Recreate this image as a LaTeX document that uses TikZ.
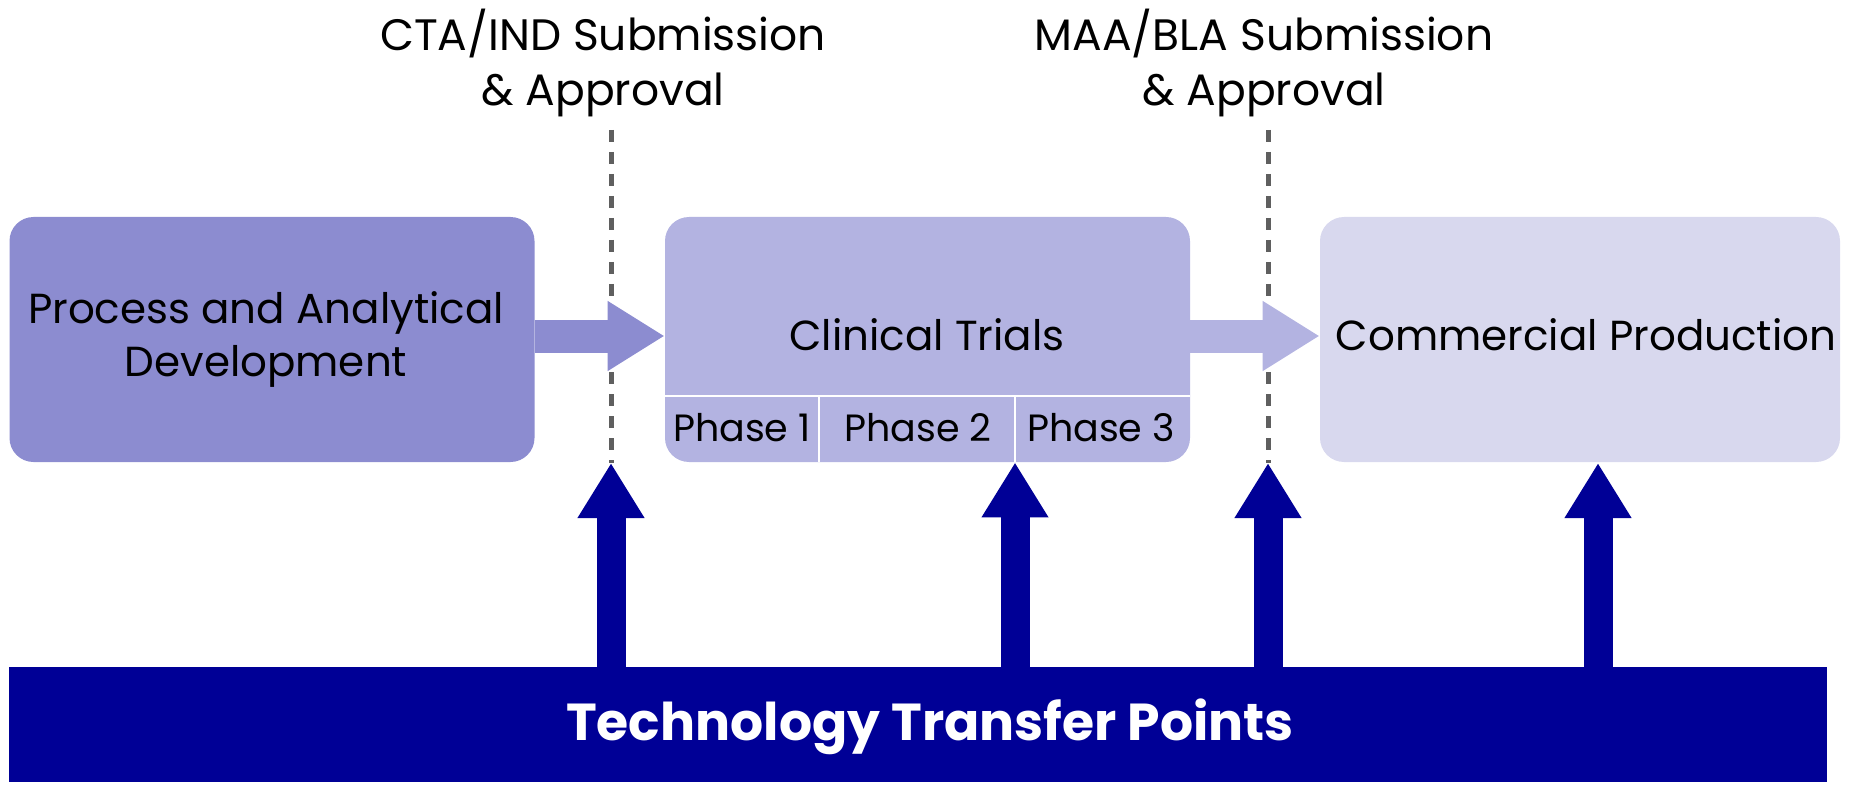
\documentclass[tikz,border=0pt]{standalone}
\usepackage{fontspec}
\setmainfont{Poppins}
\usetikzlibrary{arrows.meta}
\definecolor{pdevc}{RGB}{140,140,208}
\definecolor{clinc}{RGB}{179,179,225}
\definecolor{commc}{RGB}{216,216,238}
\definecolor{navyc}{RGB}{0,0,150}
\definecolor{dashc}{RGB}{95,95,95}
\tikzset{
  stagebox/.style={rectangle, rounded corners=12pt, inner sep=0pt, minimum height=122.5pt},
  lbl/.style={inner sep=0pt, align=center, font=\fontsize{21pt}{26.5pt}\selectfont, text=black},
  toplbl/.style={inner sep=0pt, align=center, font=\fontsize{22pt}{27.5pt}\selectfont, text=black},
  phlbl/.style={inner sep=0pt, align=center, font=\fontsize{19pt}{24pt}\selectfont, text=black},
  fatarrow/.style={line width=16.5pt, -{Triangle[width=33pt,length=28.5pt]}},
  ttarrow/.style={navyc, line width=14.5pt, -{Triangle[width=31.5pt,length=27.5pt]}},
  regline/.style={dashc, line width=2.5pt, dash pattern=on 6pt off 5pt},
  divline/.style={white, line width=1pt}
}
\begin{document}
\begin{tikzpicture}[x=0.5pt,y=-0.5pt]
\useasboundingbox (0,0) rectangle (1857,791);
% regulatory lines
\coordinate (d1top) at (611,130);
\coordinate (d1bot) at (611,463);
\coordinate (d2top) at (1268,130);
\coordinate (d2bot) at (1268,463);
\draw[regline] (d1top) -- (d1bot);
\draw[regline] (d2top) -- (d2bot);
\node[toplbl] (cta) at (603,63) {CTA/IND Submission\\\& Approval};
\node[toplbl] (maa) at (1264,63) {MAA/BLA Submission\\\& Approval};
% stages
\node[stagebox, fill=pdevc, minimum width=262.5pt] (pdev) at (272,339.5) {};
\node[stagebox, fill=clinc, minimum width=262.5pt] (clin) at (927.5,339.5) {};
\node[stagebox, fill=commc, minimum width=260pt] (comm) at (1580,339.5) {};
\node[lbl] (pdevt) at (266,339) {Process and Analytical\\Development};
\node[lbl] (clint) at (927,335) {Clinical Trials};
\node[lbl] (commt) at (1586,335) {Commercial Production};
\coordinate (sepL) at (665,396);
\coordinate (sepR) at (1190,396);
\coordinate (div1) at (819,396);
\coordinate (div2) at (1015,396);
\draw[divline] (sepL) -- (sepR);
\draw[divline] (div1) -- (div1 |- clin.south);
\draw[divline] (div2) -- (div2 |- clin.south);
\node[phlbl] (ph1) at (742,428) {Phase 1};
\node[phlbl] (ph2) at (918,428) {Phase 2};
\node[phlbl] (ph3) at (1101,428) {Phase 3};
% flow arrows
\draw[fatarrow, pdevc] ([yshift=1.75pt]pdev.east) -- ([yshift=1.75pt]clin.west);
\draw[fatarrow, clinc] ([yshift=1.75pt]clin.east) -- ([yshift=1.75pt]comm.west);
% technology transfer bar
\node[rectangle, fill=navyc, inner sep=0pt, minimum width=909pt, minimum height=57.5pt] (bar) at (918,724.5) {};
\node[inner sep=0pt, text=white, font=\fontsize{26pt}{30pt}\selectfont\bfseries] (bart) at (930,727) {Technology Transfer Points};
\coordinate (t4) at (1598,463);
\draw[ttarrow] (bar.north -| d1bot) -- (d1bot);
\draw[ttarrow] (bar.north -| div2) -- (div2 |- clin.south);
\draw[ttarrow] (bar.north -| d2bot) -- (d2bot);
\draw[ttarrow] (bar.north -| t4) -- (t4);
\end{tikzpicture}
\end{document}
